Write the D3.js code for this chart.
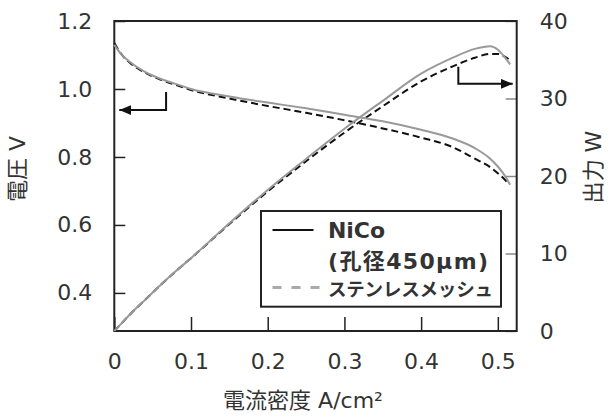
<!DOCTYPE html>
<html>
<head>
<meta charset="utf-8">
<script src="https://cdn.jsdelivr.net/npm/d3@7"></script>
<style>
  body { margin: 0; background: #fff; }
  text { font-family: "DejaVu Sans", "Noto Sans CJK JP", sans-serif; fill: #333; }
</style>
</head>
<body>
<div class="canvas"><svg></svg></div>
<script>
// current density A/cm2
const currentNiCo = [0, 0.01, 0.02, 0.04, 0.06, 0.08, 0.10, 0.15, 0.20, 0.25, 0.30, 0.35, 0.40, 0.44, 0.47, 0.49, 0.50, 0.51, 0.516]
const voltageNiCo = [1.13, 1.10, 1.08, 1.05, 1.03, 1.015, 1.00, 0.978, 0.960, 0.943, 0.924, 0.905, 0.880, 0.855, 0.826, 0.795, 0.772, 0.742, 0.718]
const powerNiCo = [0, 1.05, 2.1, 4.0, 5.9, 7.7, 9.4, 13.9, 18.2, 22.2, 26.1, 29.7, 33.2, 35.2, 36.4, 36.75, 36.3, 35.2, 34.4]

const currentSteel = [0, 0.01, 0.02, 0.04, 0.06, 0.08, 0.10, 0.15, 0.20, 0.25, 0.30, 0.35, 0.40, 0.44, 0.47, 0.49, 0.50, 0.51, 0.514]
const voltageSteel = [1.135, 1.10, 1.078, 1.048, 1.028, 1.012, 0.997, 0.972, 0.950, 0.930, 0.908, 0.884, 0.857, 0.830, 0.795, 0.770, 0.752, 0.731, 0.720]
const powerSteel = [0, 1.05, 2.1, 4.0, 5.9, 7.7, 9.4, 13.8, 18.0, 21.9, 25.6, 29.0, 32.2, 34.1, 35.25, 35.75, 35.75, 35.35, 35.1]

const xTicks = [0, 0.1, 0.2, 0.3, 0.4, 0.5]
const voltTicks = [0.4, 0.6, 0.8, 1.0, 1.2]
const powerTicks = [0, 10, 20, 30, 40]

const seriesNames = ['NiCo', '(孔径450μm)', 'ステンレスメッシュ']

// arrows: [current, value] points, which axis
const arrows = [
    { axis: 'volt', pts: [[0.0675, 0.991], [0.0675, 0.938], [0.0065, 0.938]] },
    { axis: 'power', pts: [[0.4485, 34.1], [0.4485, 31.9], [0.5194, 31.9]] }
]

const width = 612, height = 418
const margin = { left: 114.3, right: 95.3, top: 21, bottom: 87 }

const svg = d3.select('.canvas').select('svg')
    .attr('width', width)
    .attr('height', height)

const x = d3.scaleLinear().domain([0, 0.5246]).range([margin.left, width - margin.right])
const yV = d3.scaleLinear().domain([0.288, 1.2]).range([height - margin.bottom, margin.top])
const yP = d3.scaleLinear().domain([0, 40]).range([height - margin.bottom, margin.top])

const pw = width - margin.left - margin.right
const ph = height - margin.top - margin.bottom

// axes (ticks pointing inward)
const fmtX = d => d === 0 ? '0' : d3.format('.1f')(d)
const gx = svg.append('g')
    .attr('transform', `translate(0,${height - margin.bottom})`)
    .call(d3.axisBottom(x).tickValues(xTicks).tickFormat(fmtX).tickSize(-14).tickPadding(22))
const gl = svg.append('g')
    .attr('transform', `translate(${margin.left},0)`)
    .call(d3.axisLeft(yV).tickValues(voltTicks).tickFormat(d3.format('.1f')).tickSize(-11).tickPadding(22))
const gr = svg.append('g')
    .attr('transform', `translate(${width - margin.right},0)`)
    .call(d3.axisRight(yP).tickValues(powerTicks).tickSize(-11).tickPadding(23))

;[gx, gl, gr].forEach(g => {
    g.select('.domain').remove()
    g.selectAll('text').style('font-size', '22px').attr('fill', '#333')
    g.selectAll('line').attr('stroke', '#222').attr('stroke-width', 1.5)
})
gr.selectAll('line').attr('stroke', '#888')

// frame
svg.append('rect')
    .attr('x', margin.left).attr('y', margin.top)
    .attr('width', pw).attr('height', ph)
    .attr('fill', 'none').attr('stroke', '#222').attr('stroke-width', 2)

const lineV = (cs, vs) => d3.line().x((d, i) => x(cs[i])).y(d => yV(d)).curve(d3.curveMonotoneX)(vs)
const lineP = (cs, ps) => d3.line().x((d, i) => x(cs[i])).y(d => yP(d)).curve(d3.curveMonotoneX)(ps)

const graph = svg.append('g')
graph.append('path').attr('d', lineV(currentSteel, voltageSteel))
    .attr('fill', 'none').attr('stroke', '#111').attr('stroke-width', 2).attr('stroke-dasharray', '7,4')
graph.append('path').attr('d', lineP(currentSteel, powerSteel))
    .attr('fill', 'none').attr('stroke', '#111').attr('stroke-width', 2).attr('stroke-dasharray', '7,4')
graph.append('path').attr('d', lineV(currentNiCo, voltageNiCo))
    .attr('fill', 'none').attr('stroke', '#999').attr('stroke-width', 2)
graph.append('path').attr('d', lineP(currentNiCo, powerNiCo))
    .attr('fill', 'none').attr('stroke', '#999').attr('stroke-width', 2)

// arrows
svg.append('defs').append('marker')
    .attr('id', 'head').attr('viewBox', '0 0 12 10').attr('refX', 12).attr('refY', 5)
    .attr('markerWidth', 12).attr('markerHeight', 10).attr('markerUnits', 'userSpaceOnUse')
    .attr('orient', 'auto')
    .append('path').attr('d', 'M0,0L12,5L0,10Z').attr('fill', '#111')

arrows.forEach(a => {
    const ys = a.axis === 'volt' ? yV : yP
    svg.append('path')
        .attr('d', d3.line().x(p => x(p[0])).y(p => ys(p[1]))(a.pts))
        .attr('fill', 'none').attr('stroke', '#111').attr('stroke-width', 2)
        .attr('marker-end', 'url(#head)')
})

// legend
const lg = svg.append('g')
lg.append('rect').attr('x', 261).attr('y', 211).attr('width', 240).attr('height', 95.7)
    .attr('fill', '#fff').attr('stroke', '#222').attr('stroke-width', 2)
lg.append('line').attr('x1', 272.5).attr('x2', 313.5).attr('y1', 230).attr('y2', 230)
    .attr('stroke', '#111').attr('stroke-width', 1.8)
lg.append('line').attr('x1', 272.5).attr('x2', 320).attr('y1', 287.5).attr('y2', 287.5)
    .attr('stroke', '#aaa').attr('stroke-width', 3).attr('stroke-dasharray', '9,10')
lg.selectAll('text.lab').data(seriesNames).enter().append('text')
    .attr('x', 328)
    .attr('y', (d, i) => [238, 269, 296][i])
    .attr('textLength', (d, i) => [57, 160, 165][i])
    .attr('lengthAdjust', 'spacing')
    .style('font-size', (d, i) => ['22px', '22px', '18.5px'][i])
    .style('font-weight', 'bold')
    .attr('fill', '#222')
    .text(d => d)

// axis titles
svg.append('text').attr('x', 303).attr('y', 408).attr('text-anchor', 'middle')
    .style('font-size', '22px').text('電流密度 A/cm²')
svg.append('text').attr('transform', 'translate(25,169) rotate(-90)').attr('text-anchor', 'middle')
    .style('font-size', '22px').text('電圧 V')
svg.append('text').attr('transform', 'translate(601,167) rotate(-90)').attr('text-anchor', 'middle')
    .style('font-size', '22px').text('出力 W')
</script>
</body>
</html>
